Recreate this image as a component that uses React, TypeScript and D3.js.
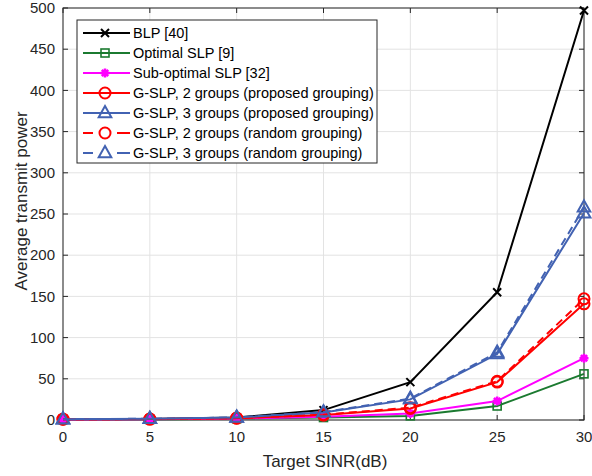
import * as d3 from 'd3';
import { useRef, useEffect } from 'react';

// Valores
const sinr = [0, 5, 10, 15, 20, 25, 30];
const blp = [1, 1.2, 3, 12, 46, 155, 497];
const optimalSlp = [0.5, 0.7, 1.5, 3, 5, 17, 56];
const subOptimalSlp = [0.6, 0.9, 1.8, 4, 8, 23, 75];
const gslp2Proposed = [1, 1.1, 2.2, 6, 14, 46, 141];
const gslp3Proposed = [1, 1.5, 3, 9, 25, 80, 251];
const gslp2Random = [1, 1.1, 2.3, 6.5, 15, 47, 147];
const gslp3Random = [1, 1.5, 3.1, 9.5, 26, 82, 258];
const xTicks = [0, 5, 10, 15, 20, 25, 30];
const yTicks = [0, 50, 100, 150, 200, 250, 300, 350, 400, 450, 500];

type Marker = 'x' | 'square' | 'star' | 'circle' | 'triangle';
const series: { name: string; values: number[]; color: string; marker: Marker; dashed: boolean }[] = [
  { name: 'BLP [40]', values: blp, color: '#000000', marker: 'x', dashed: false },
  { name: 'Optimal SLP [9]', values: optimalSlp, color: '#1b7a30', marker: 'square', dashed: false },
  { name: 'Sub-optimal SLP [32]', values: subOptimalSlp, color: '#ff00ff', marker: 'star', dashed: false },
  { name: 'G-SLP, 2 groups (proposed grouping)', values: gslp2Proposed, color: '#ff0000', marker: 'circle', dashed: false },
  { name: 'G-SLP, 3 groups (proposed grouping)', values: gslp3Proposed, color: '#4262b2', marker: 'triangle', dashed: false },
  { name: 'G-SLP, 2 groups (random grouping)', values: gslp2Random, color: '#ff0000', marker: 'circle', dashed: true },
  { name: 'G-SLP, 3 groups (random grouping)', values: gslp3Random, color: '#4262b2', marker: 'triangle', dashed: true },
];

const drawMarker = (
  g: d3.Selection<SVGGElement, unknown, null, undefined>,
  type: Marker,
  cx: number,
  cy: number,
  color: string,
) => {
  if (type === 'x') {
    const s = 4;
    g.append('path')
      .attr('d', `M${cx - s},${cy - s}L${cx + s},${cy + s}M${cx - s},${cy + s}L${cx + s},${cy - s}`)
      .attr('stroke', color)
      .attr('stroke-width', 2)
      .attr('fill', 'none');
  } else if (type === 'square') {
    g.append('rect')
      .attr('x', cx - 4)
      .attr('y', cy - 4)
      .attr('width', 8)
      .attr('height', 8)
      .attr('stroke', color)
      .attr('stroke-width', 1.6)
      .attr('fill', 'none');
  } else if (type === 'star') {
    const s = 4.5;
    const d = s * 0.707;
    g.append('path')
      .attr(
        'd',
        `M${cx - s},${cy}L${cx + s},${cy}M${cx},${cy - s}L${cx},${cy + s}` +
          `M${cx - d},${cy - d}L${cx + d},${cy + d}M${cx - d},${cy + d}L${cx + d},${cy - d}`,
      )
      .attr('stroke', color)
      .attr('stroke-width', 2.5)
      .attr('fill', 'none');
  } else if (type === 'circle') {
    g.append('circle')
      .attr('cx', cx)
      .attr('cy', cy)
      .attr('r', 5.5)
      .attr('stroke', color)
      .attr('stroke-width', 2)
      .attr('fill', 'none');
  } else {
    const s = 7;
    g.append('path')
      .attr('d', `M${cx},${cy - s}L${cx + s * 0.9},${cy + s * 0.6}L${cx - s * 0.9},${cy + s * 0.6}Z`)
      .attr('stroke', color)
      .attr('stroke-width', 2)
      .attr('fill', 'none');
  }
};

const PowerChart = () => {
  const svgRef = useRef<SVGSVGElement | null>(null);

  useEffect(() => {
    const width = 592;
    const height = 476;
    const margin = { top: 8, right: 8, bottom: 56, left: 63 };
    const innerWidth = width - margin.left - margin.right;
    const innerHeight = height - margin.top - margin.bottom;

    const xScale = d3.scaleLinear().domain([0, 30]).range([0, innerWidth]);
    const yScale = d3.scaleLinear().domain([0, 500]).range([innerHeight, 0]);

    d3.select(svgRef.current).selectAll('*').remove();

    const root = d3
      .select(svgRef.current)
      .attr('width', width)
      .attr('height', height)
      .style('font-family', 'Liberation Sans, Arial, sans-serif');

    root.append('rect').attr('width', width).attr('height', height).attr('fill', '#fff');

    const svg = root.append('g').attr('transform', `translate(${margin.left},${margin.top})`);

    // Rejilla
    xTicks.forEach((v) => {
      svg
        .append('line')
        .attr('x1', xScale(v))
        .attr('x2', xScale(v))
        .attr('y1', 0)
        .attr('y2', innerHeight)
        .attr('stroke', '#e3e3e3')
        .attr('stroke-width', 1);
    });
    yTicks.forEach((v) => {
      svg
        .append('line')
        .attr('x1', 0)
        .attr('x2', innerWidth)
        .attr('y1', yScale(v))
        .attr('y2', yScale(v))
        .attr('stroke', '#e3e3e3')
        .attr('stroke-width', 1);
    });

    // Marco y marcas
    svg
      .append('rect')
      .attr('x', 0)
      .attr('y', 0)
      .attr('width', innerWidth)
      .attr('height', innerHeight)
      .attr('fill', 'none')
      .attr('stroke', '#262626')
      .attr('stroke-width', 1);

    xTicks.forEach((v) => {
      svg
        .append('path')
        .attr('d', `M${xScale(v)},${innerHeight}v-5M${xScale(v)},0v5`)
        .attr('stroke', '#262626');
      svg
        .append('text')
        .attr('x', xScale(v))
        .attr('y', innerHeight + 22)
        .attr('text-anchor', 'middle')
        .attr('font-size', '15px')
        .attr('fill', '#262626')
        .text(v);
    });
    yTicks.forEach((v) => {
      svg
        .append('path')
        .attr('d', `M0,${yScale(v)}h5M${innerWidth},${yScale(v)}h-5`)
        .attr('stroke', '#262626');
      svg
        .append('text')
        .attr('x', -8)
        .attr('y', yScale(v))
        .attr('dy', '0.35em')
        .attr('text-anchor', 'end')
        .attr('font-size', '15px')
        .attr('fill', '#262626')
        .text(v);
    });

    // Títulos de ejes
    svg
      .append('text')
      .attr('x', 262)
      .attr('y', innerHeight + 47)
      .attr('text-anchor', 'middle')
      .attr('font-size', '17px')
      .attr('fill', '#262626')
      .text('Target SINR(dB)');
    svg
      .append('text')
      .attr('transform', `translate(${-36},${193}) rotate(-90)`)
      .attr('text-anchor', 'middle')
      .attr('font-size', '17px')
      .attr('fill', '#262626')
      .text('Average transmit power');

    // Series
    const line = d3
      .line<number>()
      .x((_, i) => xScale(sinr[i]))
      .y((d) => yScale(d));

    series.forEach((s) => {
      svg
        .append('path')
        .datum(s.values)
        .attr('d', line)
        .attr('fill', 'none')
        .attr('stroke', s.color)
        .attr('stroke-width', 2)
        .attr('stroke-dasharray', s.dashed ? '8,5' : null);
      s.values.forEach((v, i) => drawMarker(svg, s.marker, xScale(sinr[i]), yScale(v), s.color));
    });

    // Leyenda
    const legend = root.append('g').attr('transform', 'translate(77,20)');
    legend
      .append('rect')
      .attr('width', 300)
      .attr('height', 143)
      .attr('fill', '#fff')
      .attr('stroke', '#262626')
      .attr('stroke-width', 1);
    series.forEach((s, i) => {
      const y = 13 + i * 20;
      if (s.dashed) {
        legend
          .append('path')
          .attr('d', `M6,${y}h10M40,${y}h13`)
          .attr('stroke', s.color)
          .attr('stroke-width', 2);
      } else {
        legend
          .append('line')
          .attr('x1', 6)
          .attr('x2', 53)
          .attr('y1', y)
          .attr('y2', y)
          .attr('stroke', s.color)
          .attr('stroke-width', 2);
      }
      drawMarker(legend, s.marker, 28, y, s.color);
      legend
        .append('text')
        .attr('x', 56)
        .attr('y', y)
        .attr('dy', '0.35em')
        .attr('font-size', '14.5px')
        .attr('fill', '#000')
        .text(s.name);
    });
  }, []);

  return <svg ref={svgRef} style={{ position: 'absolute', left: 0, top: 0 }} />;
};

export default function App() {
  return <PowerChart />;
}
